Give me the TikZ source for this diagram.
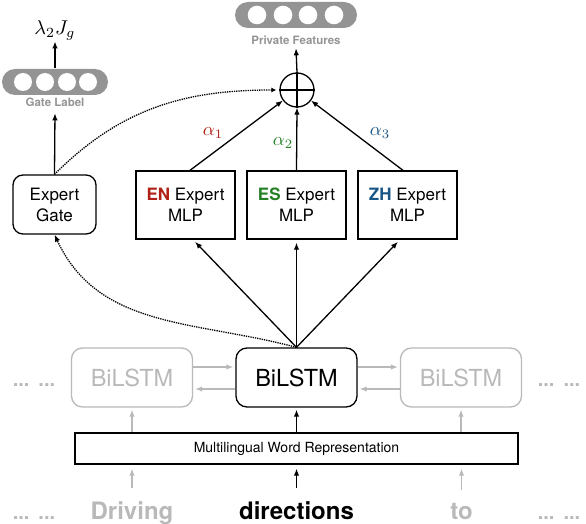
\documentclass[tikz,border=0pt]{standalone}
\usepackage{amsmath}
\usepackage{amsfonts}
\usepackage{fontspec}
\setmainfont{TeX Gyre Heros}
\usetikzlibrary{arrows.meta}
\definecolor{enred}{RGB}{176,32,22}
\definecolor{esgreen}{RGB}{36,128,36}
\definecolor{zhblue}{RGB}{24,84,132}
\definecolor{faint}{RGB}{185,185,185}
\definecolor{pillgray}{RGB}{148,148,148}
\newcommand{\bigmath}[2]{\scalebox{#1}{$#2$}}

\begin{document}
\begin{tikzpicture}[x=1pt,y=1pt,line width=1.3pt,
    >={Latex[length=7pt,width=5.5pt]},
    pill/.style={fill=pillgray,rounded corners=13pt,minimum height=26pt,inner sep=0pt},
    tag/.style={text=pillgray,font=\bfseries\fontsize{11.5}{13}\selectfont},
    expert/.style={draw,minimum width=99pt,minimum height=68pt,align=center,inner sep=0pt,
      font=\fontsize{17}{21}\selectfont},
    cell/.style={draw,rounded corners=11pt,minimum width=121pt,minimum height=59pt,inner sep=0pt,
      font=\fontsize{23.5}{26}\selectfont},
    faded/.style={draw=faint,text=faint},
    word/.style={anchor=base,inner sep=0pt,font=\bfseries\fontsize{24}{28}\selectfont},
    dots/.style={anchor=base,inner sep=0pt,text=faint,font=\bfseries\fontsize{20}{24}\selectfont},
    weight/.style={inner sep=1pt}]
  \useasboundingbox (0,0) rectangle (586,-524);

  % gate branch
  \node[pill,minimum width=106pt] (glabel) at (55,-82) {};
  \foreach \x in {23,45,67,88} \fill[white] (\x,-82) circle (9);
  \node[tag] (gtext) at (55,-102) {Gate Label};
  \node[inner sep=1pt] (loss) at (55,-30) {\bigmath{2}{\lambda_2 J_g}};
  \node[expert,rounded corners=10pt,minimum width=83pt,minimum height=59pt] (gate) at (54.5,-204.5) {Expert\\Gate};

  % private features
  \node[pill,minimum width=122pt] (pfeat) at (296,-15) {};
  \foreach \x in {257,283,308,334} \fill[white] (\x,-15) circle (9.3);
  \node[tag] (ptext) at (296,-40) {Private Features};
  \node[draw,circle,minimum size=34pt,inner sep=0pt] (sum) at (297,-90) {};
  \draw (sum.north) -- (sum.south) (sum.west) -- (sum.east);

  % experts
  \node[expert] (en) at (185.5,-205) {\textcolor{enred}{\bfseries EN} Expert\\MLP};
  \node[expert] (es) at (296.5,-205) {\textcolor{esgreen}{\bfseries ES} Expert\\MLP};
  \node[expert] (zh) at (407.5,-205) {\textcolor{zhblue}{\bfseries ZH} Expert\\MLP};
  \node[weight,text=enred] (a1) at (213,-133) {\bigmath{1.85}{\alpha_1}};
  \node[weight,text=esgreen] (a2) at (283,-143) {\bigmath{1.85}{\alpha_2}};
  \node[weight,text=zhblue] (a3) at (380,-133) {\bigmath{1.85}{\alpha_3}};

  % encoder
  \node[cell] (mid) at (296.5,-377.5) {BiLSTM};
  \node[cell,faded] (left) at (132,-377.5) {BiLSTM};
  \node[cell,faded] (right) at (461,-377.5) {BiLSTM};
  \node[draw,minimum width=443pt,minimum height=31pt,font=\fontsize{14}{16}\selectfont] (multi) at (296.5,-448.5) {Multilingual Word Representation};
  \node[word,text=faint] (w1) at (132,-519) {Driving};
  \node[word] (w2) at (296.5,-519) {directions};
  \node[word,text=faint] (w3) at (461.5,-519) {to};
  \node[dots] (d1) at (34,-386) {...\hspace{9pt}...};
  \node[dots] (d2) at (559,-386) {...\hspace{9pt}...};
  \node[dots] (d3) at (34,-519) {...\hspace{9pt}...};
  \node[dots] (d4) at (559,-519) {...\hspace{9pt}...};

  % connectors
  \draw[->] (glabel.north) -- (loss.south);
  \draw[->,shorten >=3pt] (gate.north) -- (gtext.south);
  \draw[->] (sum.north) -- (ptext.south);
  \draw[->] ([xshift=4.5pt]en.north) -- (sum);
  \draw[->] (es.north) -- (sum.south);
  \draw[->] ([xshift=-4.5pt]zh.north) -- (sum);
  \draw[->,shorten >=3pt] (mid.north) -- ([xshift=7.5pt]en.south);
  \draw[->,shorten >=3pt] (mid.north) -- (es.south);
  \draw[->,shorten >=3pt] (mid.north) -- ([xshift=-7.5pt]zh.south);
  \draw[densely dotted,-{Latex[length=5pt,width=5pt]},shorten >=3pt] (gate.north) to[out=45,in=180] (sum.west);
  \draw[densely dotted,->] (mid.north) to[out=165,in=-65] (gate.south);
  \draw[->,shorten >=2pt] (multi.north -| mid) -- (mid.south);
  \draw[->,faint,shorten >=2pt] (multi.north -| left) -- (left.south);
  \draw[->,faint,shorten >=2pt] (multi.north -| right) -- (right.south);
  \draw[->,faint,shorten >=2pt] ([yshift=10.5pt]left.east) -- ([yshift=10.5pt]mid.west);
  \draw[->,faint,shorten >=2pt] ([yshift=-11.5pt]mid.west) -- ([yshift=-11.5pt]left.east);
  \draw[->,faint,shorten >=2pt] ([yshift=10.5pt]mid.east) -- ([yshift=10.5pt]right.west);
  \draw[->,faint,shorten >=2pt] ([yshift=-11.5pt]right.west) -- ([yshift=-11.5pt]mid.east);
  \draw[->,shorten >=4pt] ([yshift=12pt]w2.north) -- (w2 |- multi.south);
  \draw[->,faint,shorten >=4pt] ([yshift=12pt]w1.north) -- (w1 |- multi.south);
  \draw[->,faint,shorten >=4pt] ([yshift=12pt]w3.north) -- (w3 |- multi.south);
\end{tikzpicture}
\end{document}
